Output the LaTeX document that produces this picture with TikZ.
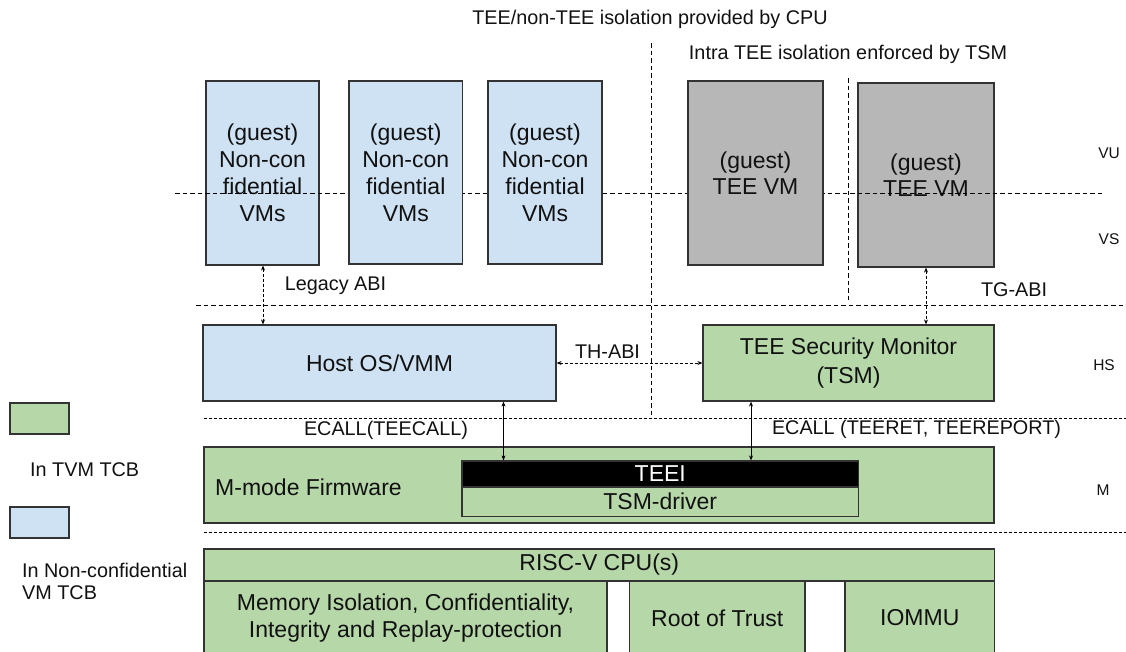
\documentclass[tikz,border=0pt]{standalone}
\usepackage{fontspec}
\setmainfont{Liberation Sans}
\usetikzlibrary{arrows.meta,calc}
\definecolor{vmblue}{HTML}{CFE2F3}
\definecolor{tgreen}{HTML}{B6D7A8}
\definecolor{tgray}{HTML}{B7B7B7}
\definecolor{edgec}{HTML}{333333}
\definecolor{txt}{HTML}{111111}
\begin{document}
\begin{tikzpicture}[x=1pt,y=-1pt,
  box/.style={draw=edgec,line width=1.2pt,inner sep=0pt,align=center,text=txt,
    font=\fontsize{23}{27}\selectfont},
  bluebox/.style={box,fill=vmblue},
  greenbox/.style={box,fill=tgreen},
  graybox/.style={box,fill=tgray,font=\fontsize{23}{26}\selectfont},
  lbl/.style={inner sep=0pt,text=txt,font=\fontsize{19.8}{22}\selectfont},
  lyr/.style={inner sep=0pt,text=txt,font=\fontsize{15.5}{18}\selectfont},
  sep/.style={draw=black,line width=1pt,dash pattern=on 4.5pt off 3pt},
  dsep/.style={draw=black,line width=1pt,dash pattern=on 3pt off 2pt},
  darr/.style={draw=black,line width=1pt,dash pattern=on 3pt off 2pt,
    {Stealth[length=5pt,width=4pt]}-{Stealth[length=5pt,width=4pt]}},
  sarr/.style={draw=black,line width=1pt,
    {Stealth[length=5pt,width=4pt]}-{Stealth[length=5pt,width=4pt]}}]
\useasboundingbox (0,0) rectangle (1126,651);
\clip (0,0) rectangle (1126,651);

% title texts
\node[lbl] (title) at (650,19) {TEE/non-TEE isolation provided by CPU};
\node[lbl] (intra) at (848,54) {Intra TEE isolation enforced by TSM};

% vertical separators
\coordinate (v1a) at (651,43);
\coordinate (v1b) at (651,417);
\coordinate (v2a) at (848,78);
\coordinate (v2b) at (848,302);
\draw[sep] (v1a) -- (v1b);
\draw[sep] (v2a) -- (v2b);

% boxes under the VU/VS line
\node[bluebox,minimum width=113pt,minimum height=184pt] (vm1) at (262.5,173)
  {(guest)\\Non-con\\fidential\\VMs};
\node[graybox,minimum width=136pt,minimum height=184pt] (tee2) at (926,175)
  {(guest)\\TEE VM};

% VU/VS separator
\coordinate (h1a) at (175,193);
\coordinate (h1b) at (1105,193);
\draw[sep] (h1a) -- (h1b);

% boxes over the line
\node[bluebox,minimum width=113.5pt,minimum height=183pt] (vm2) at (405.75,172.5)
  {(guest)\\Non-con\\fidential\\VMs};
\node[bluebox,minimum width=114pt,minimum height=183pt] (vm3) at (545,172.5)
  {(guest)\\Non-con\\fidential\\VMs};
\node[graybox,minimum width=135pt,minimum height=184pt] (tee1) at (755.5,173)
  {(guest)\\TEE VM};

% other separators
\coordinate (h2a) at (196,305);
\coordinate (h2b) at (1126,305);
\coordinate (h3a) at (204,418);
\coordinate (h3b) at (1126,418);
\coordinate (h4a) at (204,532);
\coordinate (h4b) at (1126,532);
\draw[sep] (h2a) -- (h2b);
\draw[dsep] (h3a) -- (h3b);
\draw[dsep] (h4a) -- (h4b);

% layer labels
\node[lyr] (vu) at (1109,153) {VU};
\node[lyr] (vs) at (1109,239) {VS};
\node[lyr] (hs) at (1104,365) {HS};
\node[lyr] (mm) at (1103,490) {M};

% HS boxes
\node[bluebox,minimum width=353pt,minimum height=76pt] (host) at (379.5,363)
  {Host OS/VMM};
\node[greenbox,minimum width=291pt,minimum height=76pt] (tsm) at (848.5,363)
  {TEE Security Monitor\\[2pt](TSM)};

% M-mode
\node[greenbox,minimum width=790pt,minimum height=76pt] (mfw) at (599,485) {};
\node[lbl,anchor=west,font=\fontsize{23}{27}\selectfont] (mfwt) at (215,487)
  {M-mode Firmware};
\node[box,fill=black,text=white,minimum width=396.5pt,minimum height=26pt] (teei)
  at (660.25,474) {TEEI};
\node[greenbox,minimum width=396.5pt,minimum height=29.5pt] (tsmd)
  at (660.25,501.75) {TSM-driver};

% CPU
\node[greenbox,minimum width=790.5pt,minimum height=32pt] (cpu) at (599.25,565)
  {RISC-V CPU(s)};
\node[greenbox,minimum width=403pt,minimum height=74pt] (mem) at (405.5,618)
  {Memory Isolation, Confidentiality,\\Integrity and Replay-protection};
\node[greenbox,minimum width=175.5pt,minimum height=74pt] (rot) at (717.25,618)
  {Root of Trust};
\node[greenbox,minimum width=149.5pt,minimum height=74pt] (iommu) at (919.75,618)
  {IOMMU};

% legend
\node[greenbox,minimum width=59pt,minimum height=31pt] (lg1) at (39.5,418.5) {};
\node[lbl,anchor=west] (lg1t) at (30,470) {In TVM TCB};
\node[bluebox,minimum width=59pt,minimum height=31pt] (lg2) at (39.5,522.5) {};
\node[lbl,anchor=west,align=left] (lg2t) at (22,581) {In Non-confidential\\VM TCB};

% connectors
\coordinate (lx) at (263,0);
\coordinate (e1x) at (503.5,0);
\coordinate (e2x) at (751,0);
\draw[darr] (vm1.south -| lx) -- (host.north -| lx);
\draw[darr] (tee2.south) -- (tsm.north -| tee2.south);
\draw[darr] (host.east) -- (tsm.west);
\draw[sarr] (host.south -| e1x) -- (teei.north -| e1x);
\draw[sarr] (tsm.south -| e2x) -- (teei.north -| e2x);

% connector labels
\node[lbl] (legacy) at (335.5,285.5) {Legacy ABI};
\node[lbl] (tgabi) at (1014,290) {TG-ABI};
\node[lbl] (thabi) at (607.5,352) {TH-ABI};
\node[lbl] (ecall1) at (386,430) {ECALL(TEECALL)};
\node[lbl] (ecall2) at (916.5,429) {ECALL (TEERET, TEEREPORT)};
\end{tikzpicture}
\end{document}
